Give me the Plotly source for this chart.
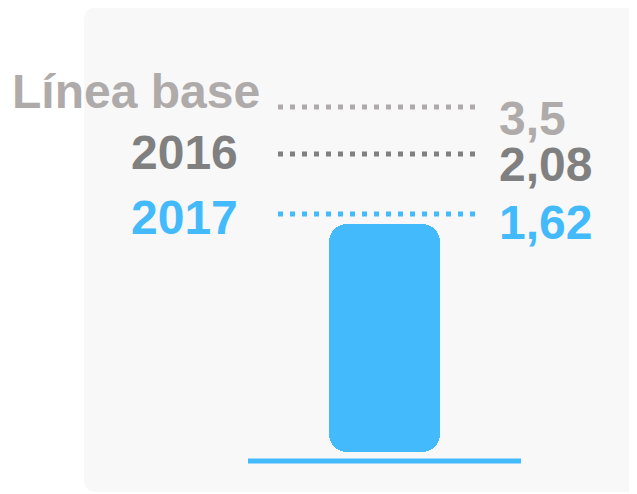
import plotly.graph_objects as go

# ---- data ----
labels = ["Línea base", "2016", "2017"]
values = [3.5, 2.08, 1.62]
value_texts = ["3,5", "2,08", "1,62"]
bar_category = ["2017"]
bar_value = [1.62]

# ---- style ----
W, H = 637, 494
OFF = 8  # page body margin
colors = ["#afabaa", "#808080", "#42bafc"]
BLUE = "#42bafc"
FONT = "Liberation Sans"
FS = 48
# row layout in pixels (label cap-centre, leader line, value cap-centre)
label_y = [91.5, 152.5, 217]
label_right = [262, 240, 240]
line_y = [107, 154, 214]
value_y = [118.5, 165, 222.5]
LINE_X0, LINE_X1 = 278, 480
VALUE_X = 497


def px(x):
    return (x - OFF) / W


def py(y):
    return 1 - (y - OFF) / H


fig = go.Figure()

# bar drawn as two overlapping pieces so both ends get rounded corners
v = bar_value[0]
fig.add_trace(go.Bar(x=bar_category, y=[v * 0.85], base=[v * 0.15],
                     marker=dict(color=BLUE, cornerradius=18, line=dict(width=0)),
                     hoverinfo="skip", showlegend=False))
fig.add_trace(go.Bar(x=bar_category, y=[-v * 0.85], base=[v * 0.85],
                     marker=dict(color=BLUE, cornerradius=18, line=dict(width=0)),
                     hoverinfo="skip", showlegend=False))

shapes = []
# background rounded panel
x0, x1, y0, y1, r = 84, 700, 7, 492, 13
path = (f"M {px(x0+r)},{py(y0)} L {px(x1)},{py(y0)} L {px(x1)},{py(y1)} "
        f"L {px(x0+r)},{py(y1)} Q {px(x0)},{py(y1)} {px(x0)},{py(y1-r)} "
        f"L {px(x0)},{py(y0+r)} Q {px(x0)},{py(y0)} {px(x0+r)},{py(y0)} Z")
shapes.append(dict(type="path", xref="paper", yref="paper", path=path,
                   fillcolor="#f8f8f8", line=dict(width=0), layer="below"))
# baseline
shapes.append(dict(type="line", xref="paper", yref="paper",
                   x0=px(248), x1=px(521), y0=py(461), y1=py(461),
                   line=dict(color=BLUE, width=5)))
# dotted leader lines
for i in range(len(labels)):
    shapes.append(dict(type="line", xref="paper", yref="paper",
                       x0=px(LINE_X0), x1=px(LINE_X1), y0=py(line_y[i]), y1=py(line_y[i]),
                       line=dict(color=colors[i], width=5, dash="5px,7px")))

annotations = []
for i in range(len(labels)):
    annotations.append(dict(text=f"<b>{labels[i]}</b>", xref="paper", yref="paper",
                            x=px(label_right[i]), y=py(label_y[i]),
                            xanchor="right", yanchor="middle", showarrow=False,
                            font=dict(family=FONT, size=FS, color=colors[i])))
    annotations.append(dict(text=f"<b>{value_texts[i]}</b>", xref="paper", yref="paper",
                            x=px(VALUE_X), y=py(value_y[i]),
                            xanchor="left", yanchor="middle", showarrow=False,
                            font=dict(family=FONT, size=FS, color=colors[i])))

fig.update_layout(
    width=W, height=H,
    margin=dict(l=0, r=0, t=0, b=0),
    paper_bgcolor="white", plot_bgcolor="rgba(0,0,0,0)",
    barmode="overlay", bargap=0,
    shapes=shapes, annotations=annotations,
    showlegend=False,
    xaxis=dict(domain=[px(329), px(440)], range=[-0.5, 0.5], visible=False,
               fixedrange=True),
    yaxis=dict(domain=[py(452), py(224)], range=[0, v], visible=False,
               fixedrange=True),
)

fig.write_html("out.html")
